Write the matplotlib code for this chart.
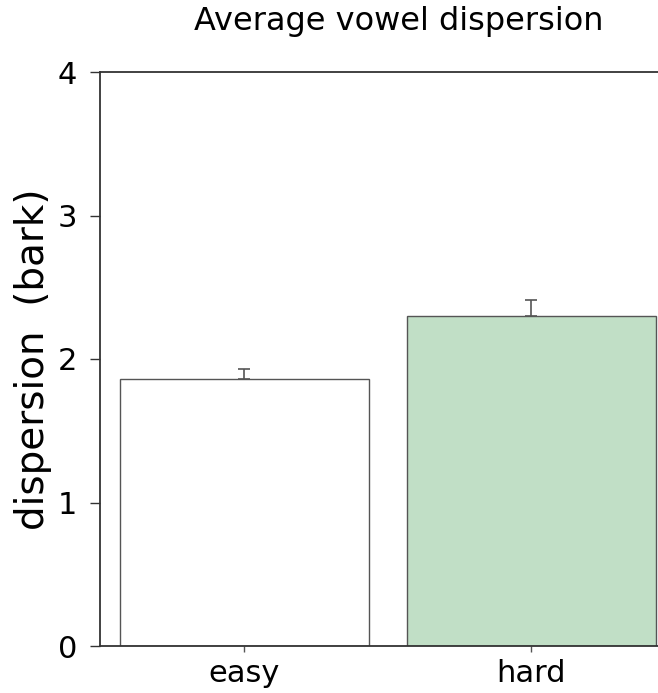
import matplotlib
matplotlib.use("Agg")
import matplotlib.pyplot as plt

categories = ["easy", "hard"]
values = [1.86, 2.30]
errors = [0.07, 0.11]
colors = ["#ffffff", "#c1dfc6"]
yticks = [0, 1, 2, 3, 4]

plt.rcParams['font.family'] = ['DejaVu Sans']

fig = plt.figure(figsize=(6.58, 6.93), dpi=100)
ax = fig.add_axes([100/658, 47/693, 560/658, 574/693])

x = list(range(len(categories)))
ax.bar(x, values, width=0.87, color=colors, edgecolor="#555555", linewidth=1.0, zorder=2)
ax.errorbar(x, values, yerr=[[0, 0], errors], fmt="none", ecolor="#555555",
            elinewidth=1.2, capsize=4, capthick=1.2, zorder=3)

ax.set_xlim(-0.503, 1.448)
ax.set_ylim(0, 4)
ax.set_yticks(yticks)
ax.set_yticklabels([str(t) for t in yticks])
ax.set_xticks(x)
ax.set_xticklabels(categories)

for s in ["left", "bottom", "top"]:
    ax.spines[s].set_color("#333333")
    ax.spines[s].set_linewidth(1.3)
ax.spines["right"].set_visible(False)

ax.tick_params(axis="y", direction="out", length=7.5, width=1.0, color="#333333",
               labelsize=22, pad=9)
ax.tick_params(axis="x", direction="out", length=4.5, width=1.0, color="#555555",
               labelsize=22, pad=5)

ax.set_ylabel("dispersion  (bark)", fontsize=28, labelpad=4)
fig.text(399/658, 1 - 30/693, "Average vowel dispersion", fontsize=23,
         ha="center", va="baseline")

fig.savefig("out.png", dpi=100)
